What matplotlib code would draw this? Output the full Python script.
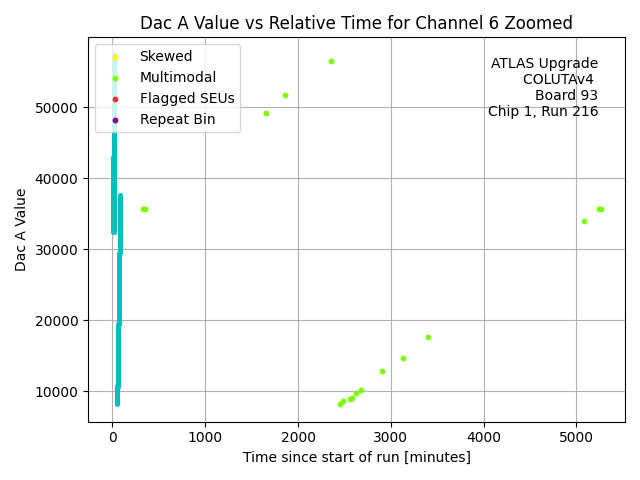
import numpy as np
import matplotlib
matplotlib.use("Agg")
import matplotlib.pyplot as plt

scan_times = [[22, 26], [14, 14], [6, 6], [1, 1], [85, 85], [75, 75], [56, 56], [45, 45]]
scan_values = [[43800, 57400], [32400, 43800], [36300, 43000], [32400, 36300],
               [29500, 37700], [19500, 29500], [10600, 19500], [8200, 10800]]

# multimodal points
multi_time = [330, 350, 1650, 1855, 2352, 2449, 2481, 2557, 2578, 2621, 2676,
              2902, 3128, 3398, 5081, 5245, 5260]
multi_value = [35750, 35750, 49160, 51680, 56570, 8180, 8600, 8880, 9100, 9720,
               10140, 12800, 14750, 17690, 34050, 35750, 35750]

info = "ATLAS Upgrade\nCOLUTAv4 \nBoard 93\nChip 1, Run 216"

fig, ax = plt.subplots(figsize=(6.4, 4.8), dpi=100)

for t, v in zip(scan_times, scan_values):
    ax.plot(t, v, color='c', lw=3.6, solid_capstyle='round')

ax.scatter([], [], c='yellow', s=10, label='Skewed')
ax.scatter(multi_time, multi_value, c='lawngreen', s=10, label='Multimodal', zorder=3)
ax.scatter([], [], c='#e03535', s=10, label='Flagged SEUs')
ax.scatter([], [], c='purple', s=10, label='Repeat Bin')

ax.set_title("Dac A Value vs Relative Time for Channel 6 Zoomed")
ax.set_xlabel("Time since start of run [minutes]")
ax.set_ylabel("Dac A Value")
ax.grid(True)
ax.legend(loc='upper left')
ax.text(0.95, 0.95, info, transform=ax.transAxes, ha='right', va='top')

plt.tight_layout()
plt.savefig("out.png")
